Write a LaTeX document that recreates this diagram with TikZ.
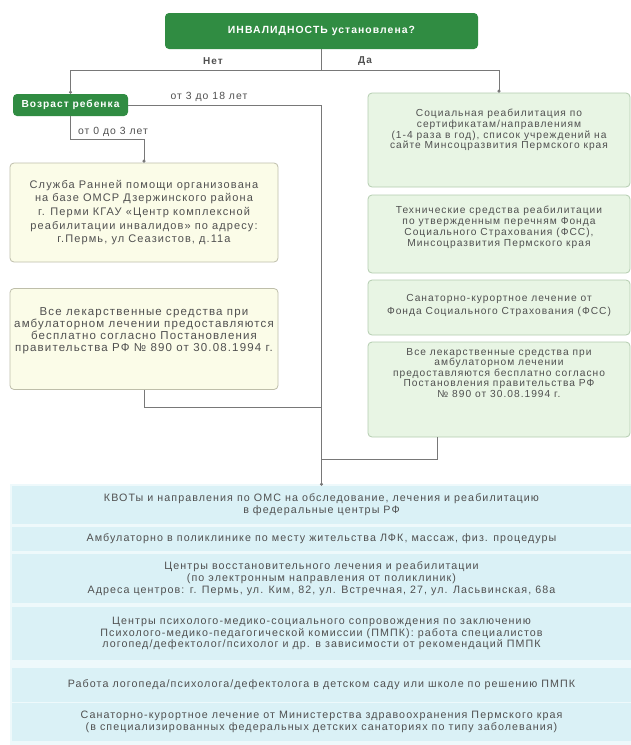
\documentclass[tikz,border=0pt]{standalone}
\usepackage{fontspec}
\setmainfont{Liberation Sans}[LetterSpace=10]
\usetikzlibrary{arrows.meta}
\definecolor{dgreen}{RGB}{48,140,66}
\definecolor{ytfill}{RGB}{251,252,232}
\definecolor{ytdraw}{RGB}{190,190,170}
\definecolor{gnfill}{RGB}{232,245,228}
\definecolor{gndraw}{RGB}{180,205,176}
\definecolor{bufill}{RGB}{218,241,246}
\definecolor{bulight}{RGB}{238,249,251}
\definecolor{txt}{RGB}{80,80,80}
\definecolor{conncol}{RGB}{120,120,120}
\tikzset{
  gbox/.style={draw=none, fill=dgreen, rounded corners=4pt, text=white, font=\bfseries},
  ybox/.style={draw=ytdraw, fill=ytfill, rounded corners=4pt, line width=0.8pt},
  rbox/.style={draw=gndraw, fill=gnfill, rounded corners=4pt, line width=0.8pt},
  bbox/.style={fill=bufill, draw=none, minimum width=619pt, inner sep=0pt, text=txt, align=center, font=\fontsize{10.7}{11.8}\selectfont},
  ttext/.style={text=txt, align=center, inner sep=0pt},
  conn/.style={draw=conncol, line width=0.8pt},
  dotend/.style={-{Circle[length=3pt]}},
  lbl/.style={text=txt, inner sep=0pt, font=\fontsize{10.4}{12}\selectfont}
}
\begin{document}
\begin{tikzpicture}[x=1pt,y=-1pt]
\path[use as bounding box, fill=white] (0,0) rectangle (631,745);

% top decision
\node[gbox, minimum width=313pt, minimum height=36pt, font=\bfseries\fontsize{10.4}{13}\selectfont] (top) at (321.5,31) {ИНВАЛИДНОСТЬ установлена?};
\node[lbl, font=\bfseries\fontsize{10}{12}\selectfont] (no) at (213,61) {Нет};
\node[lbl, font=\bfseries\fontsize{10}{12}\selectfont] (yes) at (365,61) {Да};
\coordinate (jn) at (321.5,70);

% age box
\node[gbox, minimum width=115pt, minimum height=22pt, inner sep=0pt, font=\bfseries\fontsize{10.2}{11}\selectfont] (age) at (70.5,105) {Возраст ребенка};

% left yellow boxes
\node[ybox, minimum width=268pt, minimum height=99pt] (y1) at (144,212.5) {};
\node[ttext, font=\fontsize{11}{13.7}\selectfont] (y1t) at (144,212.5) {Служба Ранней помощи организована\\на базе ОМСР Дзержинского района\\г. Перми КГАУ «Центр комплексной\\реабилитации инвалидов» по адресу:\\г.Пермь, ул Сеазистов, д.11а};
\node[ybox, minimum width=268pt, minimum height=101pt] (y2) at (144,339) {};
\node[ttext, font=\fontsize{11.5}{12}\selectfont] (y2t) at (144,331) {Все лекарственные средства при\\амбулаторном лечении предоставляются\\бесплатно согласно Постановления\\правительства РФ № 890 от 30.08.1994 г.};

% right green boxes
\node[rbox, minimum width=262pt, minimum height=94pt] (r1) at (499,140) {};
\node[ttext, font=\fontsize{10.2}{10.8}\selectfont] (r1t) at (499,130) {Социальная реабилитация по\\сертификатам/направлениям\\(1-4 раза в год), список учреждений на\\сайте Минсоцразвития Пермского края};
\node[rbox, minimum width=262pt, minimum height=78pt] (r2) at (499,234) {};
\node[ttext, font=\fontsize{10.2}{10.8}\selectfont] (r2t) at (499,227.5) {Технические средства реабилитации\\по утвержденным перечням Фонда\\Социального Страхования (ФСС),\\Минсоцразвития Пермского края};
\node[rbox, minimum width=262pt, minimum height=55pt] (r3) at (499,307.5) {};
\node[ttext, font=\fontsize{10.2}{13}\selectfont] (r3t) at (499,305) {Санаторно-курортное лечение от\\Фонда Социального Страхования (ФСС)};
\node[rbox, minimum width=262pt, minimum height=95pt] (r4) at (499,389.5) {};
\node[ttext, font=\fontsize{10.2}{10.5}\selectfont] (r4t) at (499,373) {Все лекарственные средства при\\амбулаторном лечении\\предоставляются бесплатно согласно\\Постановления правительства РФ\\№ 890 от 30.08.1994 г.};

% blue area
\fill[bulight] (10,484) rectangle (631,745);
\node[bbox, minimum height=38pt] (b1) at (321.5,505) {КВОТы и направления по ОМС на обследование, лечения и реабилитацию\\в федеральные центры РФ};
\node[bbox, minimum height=24pt] (b2) at (321.5,539) {Амбулаторно в поликлинике по месту жительства ЛФК, массаж, физ. процедуры};
\node[bbox, minimum height=49pt] (b3) at (321.5,578.5) {Центры восстановительного лечения и реабилитации\\(по электронным направления от поликлиник)\\Адреса центров: г. Пермь, ул. Ким, 82, ул. Встречная, 27, ул. Ласьвинская, 68а};
\node[bbox, minimum height=53pt] (b4) at (321.5,633.5) {Центры психолого-медико-социального сопровождения по заключению\\Психолого-медико-педагогической комиссии (ПМПК): работа специалистов\\логопед/дефектолог/психолог и др. в зависимости от рекомендаций ПМПК};
\node[bbox, minimum height=34pt] (b5) at (321.5,685) {Работа логопеда/психолога/дефектолога в детском саду или школе по решению ПМПК};
\node[bbox, minimum height=38pt] (b6) at (321.5,722) {Санаторно-курортное лечение от Министерства здравоохранения Пермского края\\(в специализированных федеральных детских санаториях по типу заболевания)};

% connectors
\draw[conn] (top.south) -- (jn);
\draw[conn, dotend] (jn) -| (age.north);
\draw[conn, dotend] (jn) -| (r1.north);

\coordinate (bus) at (b1.north);
\draw[conn, dotend] (age.east) -| (bus);
\node[lbl, anchor=south] (l318) at (209,102) {от 3 до 18 лет};

\coordinate (k1) at (144,139);
\draw[conn, dotend] (age.south) |- (k1) -- (y1.north);
\node[lbl, anchor=south] (l03) at (113,137) {от 0 до 3 лет};

\coordinate (k2) at (144,407);
\draw[conn] (y2.south) -- (k2) -- (k2 -| bus);

\coordinate (k4) at (437,459);
\draw[conn] (r4.south -| k4) -- (k4) -- (k4 -| bus);
\end{tikzpicture}
\end{document}
